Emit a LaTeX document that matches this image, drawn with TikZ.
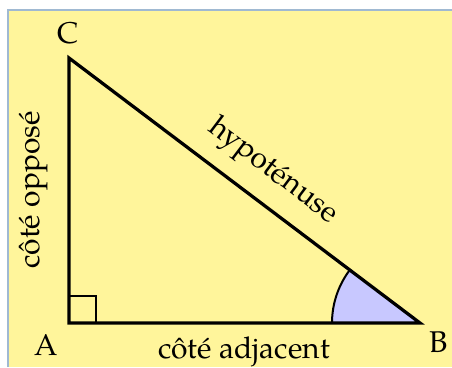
\documentclass[tikz,border=0pt]{standalone}
\usepackage{fontspec}
\setmainfont{TeX Gyre Pagella}
\usepackage{xcolor}
\usepackage{tikz}
\usetikzlibrary{calc}

\definecolor{paper}{RGB}{255,245,155}
\definecolor{frameblue}{RGB}{160,185,210}
\definecolor{anglefill}{RGB}{200,200,255}

\begin{document}
\begin{tikzpicture}[
  x=0.4pt, y=0.4pt,
  font=\large,
  side/.style={line width=1.3pt, line join=miter},
  lbl/.style={inner sep=0pt}
]

\useasboundingbox (0, 0) rectangle (452, 367);

% Background sheet
\fill[paper] (8, 0) rectangle (452, 356.5);
\draw[frameblue, line width=0.8pt] (8, 0) -- (8, 356.5) -- (452, 356.5);

% ==================== Triangle corners ====================
\coordinate (A) at (69, 44);
\coordinate (B) at (420, 44);
\coordinate (C) at (69, 309);

% Angle at B
\fill[anglefill] (B) -- ++(180:88) arc[start angle=180, end angle=142.95, radius=88] -- cycle;
\draw[line width=0.8pt] ($(B)+(180:88)$) arc[start angle=180, end angle=142.95, radius=88];

% Right angle at A
\draw[line width=0.6pt] ($(A)+(27,0)$) -- ++(0,27) -- ($(A)+(0,27)$);

% Sides
\draw[side] (A) -- (B) -- (C) -- cycle;

% ==================== Labels ====================
\node[lbl] (labelC) at (68, 334) {C};
\node[lbl] (labelA) at (46, 22) {A};
\node[lbl] (labelB) at (439, 25) {B};

\node[lbl, rotate=90] (opp) at (34, 177) {côté opposé};
\node[lbl] (adj) at (244, 15) {côté adjacent};
\node[lbl, rotate=-37.05] (hyp) at (273, 195) {hypoténuse};

\end{tikzpicture}
\end{document}
